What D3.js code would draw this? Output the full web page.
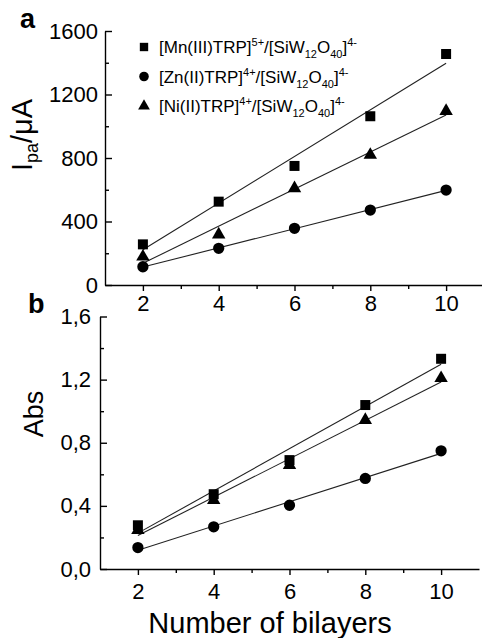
<!DOCTYPE html>
<html>
<head>
<meta charset="UTF-8">
<script src="https://d3js.org/d3.v7.min.js"></script>
<style>
  body { margin: 0; background: #fff; }
  svg { display: block; font-family: "Liberation Sans", Arial, sans-serif; }
  .axis path, .axis line { stroke: #000; stroke-width: 1.4; }
  .axis text { fill: #000; }
</style>
</head>
<body>
<div id="chart"></div>
<script>
// number of bilayers
const bilayers = [2, 4, 6, 8, 10];

// panel a: anodic peak current (uA)
const ipaMn = [256, 525, 750, 1063, 1455];
const ipaZn = [115, 231, 357, 472, 598];
const ipaNi = [178, 318, 609, 819, 1096];

// panel b: absorbance
const absMn = [0.277, 0.474, 0.690, 1.039, 1.332];
const absZn = [0.136, 0.267, 0.404, 0.574, 0.749];
const absNi = [0.246, 0.436, 0.658, 0.944, 1.209];

const xTicks = [2, 4, 6, 8, 10];
const xMinor = [3, 5, 7, 9];
const ipaTicks = [0, 400, 800, 1200, 1600];
const ipaMinor = [200, 600, 1000, 1400];
const absTicks = [0, 0.4, 0.8, 1.2, 1.6];
const absMinor = [0.2, 0.6, 1.0, 1.4];

const seriesNames = ["Mn", "Zn", "Ni"];
const symbols = { Mn: d3.symbolSquare, Zn: d3.symbolCircle, Ni: d3.symbolTriangle };
const symSize = { Mn: 100, Zn: 100, Ni: 78 };

const W = 482, H = 638;
const svg = d3.select("#chart").append("svg").attr("width", W).attr("height", H);

function fit(xs, ys) {
  let mx = d3.mean(xs), my = d3.mean(ys);
  let sxy = d3.sum(xs, (v, i) => (v - mx) * (ys[i] - my));
  let sxx = d3.sum(xs, v => (v - mx) * (v - mx));
  let b = sxy / sxx;
  return v => my + b * (v - mx);
}

function panel(opt) {
  let x = d3.scaleLinear().domain([1, 11]).range(opt.xr);
  let y = d3.scaleLinear().domain([0, opt.ymax]).range(opt.yr);
  let g = svg.append("g");

  // minor ticks first
  g.append("g").attr("class", "axis")
    .attr("transform", "translate(0," + opt.yr[0] + ")")
    .call(d3.axisBottom(x).tickValues(xMinor).tickSize(4).tickFormat(""))
    .select(".domain").remove();
  g.append("g").attr("class", "axis")
    .attr("transform", "translate(" + opt.xr[0] + ",0)")
    .call(d3.axisLeft(y).tickValues(opt.minor).tickSize(-4).tickFormat(""))
    .select(".domain").remove();

  let xa = g.append("g").attr("class", "axis")
    .attr("transform", "translate(0," + opt.yr[0] + ")")
    .call(d3.axisBottom(x).tickValues(xTicks).tickSizeInner(6).tickSizeOuter(0).tickPadding(opt.xpad));
  xa.selectAll("text").style("font-size", "22px");

  let ya = g.append("g").attr("class", "axis")
    .attr("transform", "translate(" + opt.xr[0] + ",0)")
    .call(d3.axisLeft(y).tickValues(opt.ticks).tickSizeInner(-7).tickSizeOuter(0)
      .tickPadding(opt.ypad).tickFormat(opt.fmt));
  ya.selectAll("text").style("font-size", "22px");

  let data = opt.data;
  seriesNames.forEach(name => {
    let f = fit(bilayers, data[name]);
    g.append("line")
      .attr("x1", x(bilayers[0])).attr("y1", y(f(bilayers[0])))
      .attr("x2", x(bilayers[bilayers.length - 1])).attr("y2", y(f(bilayers[bilayers.length - 1])))
      .attr("stroke", "#222").attr("stroke-width", 1.1);
  });
  seriesNames.forEach(name => {
    g.selectAll(".pt-" + name)
      .data(data[name])
      .enter().append("path")
      .attr("transform", (d, i) => "translate(" + x(bilayers[i]) + "," + y(d) + ")")
      .attr("d", d3.symbol().type(symbols[name]).size(symSize[name]))
      .attr("fill", "#000");
  });
  return { x, y, g };
}

panel({
  xr: [105, 484], yr: [285, 31], ymax: 1600,
  ticks: ipaTicks, minor: ipaMinor, fmt: d3.format("d"),
  xpad: 4, ypad: 7,
  data: { Mn: ipaMn, Zn: ipaZn, Ni: ipaNi }
});

panel({
  xr: [100, 479], yr: [569, 316.5], ymax: 1.6,
  ticks: absTicks, minor: absMinor, fmt: d => d3.format(".1f")(d).replace(".", ","),
  xpad: 8, ypad: 9,
  data: { Mn: absMn, Zn: absZn, Ni: absNi }
});

// panel letters
svg.append("text").attr("x", 20).attr("y", 28).attr("font-size", 27).attr("font-weight", "bold").text("a");
svg.append("text").attr("x", 28).attr("y", 313).attr("font-size", 27).attr("font-weight", "bold").text("b");

// y label a: I_pa/μA
let yl = svg.append("text")
  .attr("transform", "translate(32,135) rotate(-90)")
  .attr("text-anchor", "middle")
  .attr("font-size", 29);
yl.append("tspan").text("I");
yl.append("tspan").attr("dy", 6).attr("font-size", 18).text("pa");
yl.append("tspan").attr("dy", -6).text("/\u03bcA");

// y label b
svg.append("text")
  .attr("transform", "translate(43,414) rotate(-90)")
  .attr("text-anchor", "middle")
  .attr("font-size", 27)
  .text("Abs");

// x label
svg.append("text")
  .attr("x", 270).attr("y", 633)
  .attr("text-anchor", "middle")
  .attr("font-size", 29)
  .text("Number of bilayers");

// legend
const legendMetal = ["[Mn(III)TRP]", "[Zn(II)TRP]", "[Ni(II)TRP]"];
const legendCharge = ["5+", "4+", "4+"];
const legendSize = { Mn: 70, Zn: 72, Ni: 60 };
seriesNames.forEach((name, i) => {
  let cy = 47 + i * 29.5;
  svg.append("path")
    .attr("transform", "translate(144," + cy + ")")
    .attr("d", d3.symbol().type(symbols[name]).size(legendSize[name]))
    .attr("fill", "#000");
  let t = svg.append("text").attr("x", 159).attr("y", cy + 6).attr("font-size", 17);
  t.append("tspan").text(legendMetal[i]);
  t.append("tspan").attr("dy", -7).attr("font-size", 11).text(legendCharge[i]);
  t.append("tspan").attr("dy", 7).text("/[SiW");
  t.append("tspan").attr("dy", 5).attr("font-size", 11).text("12");
  t.append("tspan").attr("dy", -5).text("O");
  t.append("tspan").attr("dy", 5).attr("font-size", 11).text("40");
  t.append("tspan").attr("dy", -5).text("]");
  t.append("tspan").attr("dy", -7).attr("font-size", 11).text("4-");
});
</script>
</body>
</html>
